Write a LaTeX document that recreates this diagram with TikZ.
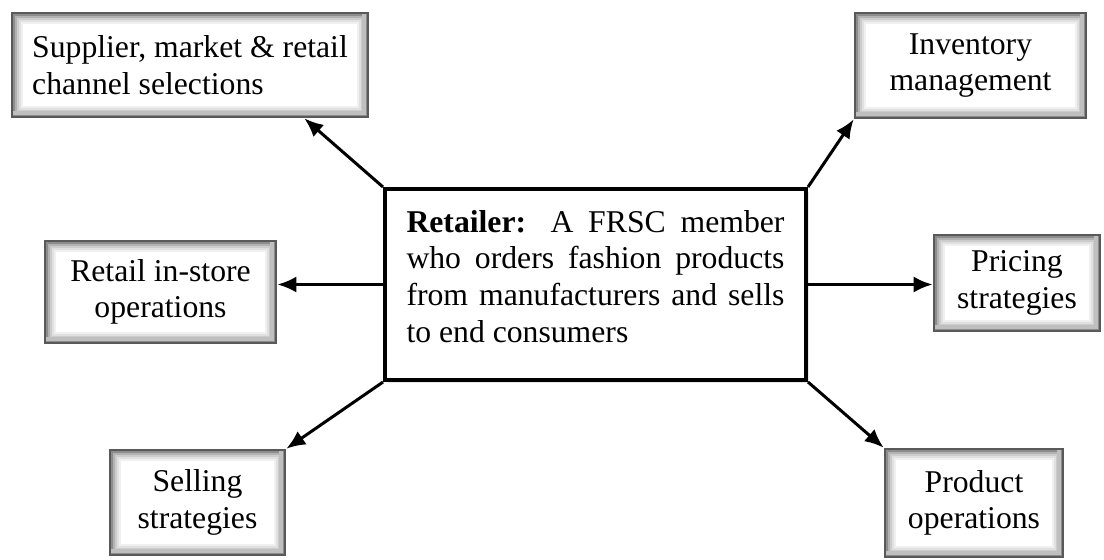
\documentclass[tikz,border=0pt]{standalone}
\usepackage{fontspec}
\setmainfont{Liberation Serif}
\usetikzlibrary{arrows.meta,calc,positioning,shadows}

\begin{document}
\begin{tikzpicture}[x=0.5pt,y=-0.5pt,
    font=\fontsize{15.85}{18.35}\selectfont,
    >={Latex[length=9.5pt,width=8pt]},
    link/.style={->,line width=1.5pt},
    topic/.style={fill=white,draw=black!65,line width=1.3pt,inner sep=0pt,
      align=center,
      path picture={
        \foreach \d/\g in {1/45,2/30,3/20,4/12,5/6}
          \draw[black!\g,line width=1pt]
            ($(path picture bounding box.south west)+(\d pt,\d pt)$) rectangle
            ($(path picture bounding box.north east)-(\d pt,\d pt)$);
        % a bit more shade along the lower and right sides
        \draw[black!25,line width=2pt]
          ($(path picture bounding box.south west)+(0,2pt)$) --
          ($(path picture bounding box.south east)+(-2pt,2pt)$) --
          ($(path picture bounding box.north east)+(-2pt,0)$);
      }},
    core/.style={fill=white,draw=black,line width=2pt,inner sep=0pt,
      text width=189pt,align=justify,
      minimum width=210.5pt,minimum height=95.5pt,
      drop shadow={opacity=0.2,shadow xshift=1.5pt,shadow yshift=-1.5pt}}]
%
  \useasboundingbox (0,0) rectangle (1104,559);
%
  % the retailer in the middle
  \node[core] (retailer) at (595.5,284.5)
    {\hyphenpenalty=10000
     \textbf{Retailer:} A FRSC member\linebreak
     who orders fashion products\linebreak
     from manufacturers and sells\linebreak
     to end consumers\\[-10pt]\mbox{}};
%
  % decisions around it
  \node[topic,minimum width=178pt,minimum height=52pt,align=left] (sel) at (190,65)
    {Supplier, market \& retail\\channel selections};
  \node[topic,minimum width=115.5pt,minimum height=52.5pt] (inv) at (970.5,65.5)
    {Inventory\\management};
  \node[topic,minimum width=115.5pt,minimum height=51pt] (ret) at (160.5,292)
    {Retail in-store\\operations};
  \node[topic,minimum width=83pt,minimum height=48pt] (pri) at (1017,283)
    {Pricing\\strategies};
  \node[topic,minimum width=87.5pt,minimum height=52.5pt] (sell) at (197.5,502.5)
    {Selling\\strategies};
  \node[topic,minimum width=89pt,minimum height=54pt] (prod) at (974,503)
    {Product\\operations};
%
  \draw[link] (retailer.north west) -- (sel.-25);
  \draw[link] (retailer.north east) -- (inv.south west);
  \draw[link] (retailer.west) -- (retailer.west -| ret.east);
  \draw[link] (retailer.east) -- (retailer.east -| pri.west);
  \draw[link] (retailer.south west) -- (sell.north east);
  \draw[link] (retailer.south east) -- (prod.north west);
%
\end{tikzpicture}
\end{document}
